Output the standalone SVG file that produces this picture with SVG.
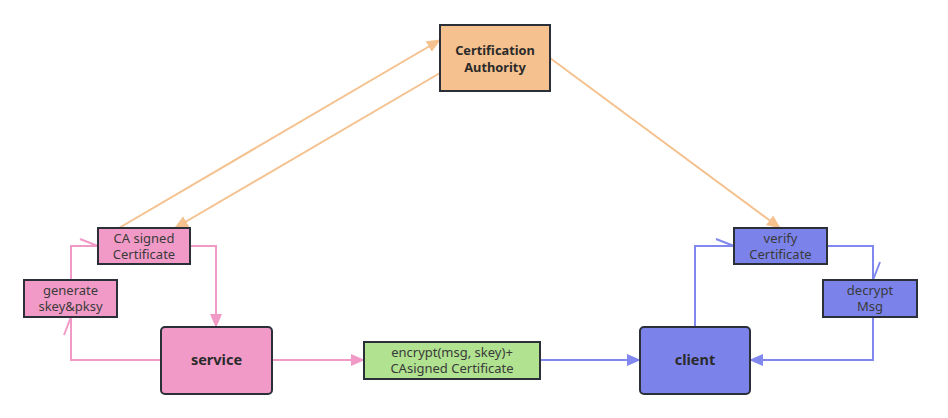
<svg xmlns="http://www.w3.org/2000/svg" width="948" height="418" viewBox="0 0 948 418">
<defs>
<style>
.box{stroke:#2b3038;stroke-width:2}
.t{font-family:"Noto Sans","Liberation Sans",sans-serif;font-size:13px;fill:#3a3a3a;text-anchor:middle}
.b{font-weight:bold;fill:#2b2b2b;font-size:12.8px}
.o{stroke:#f5c18e;stroke-width:2;fill:none}
.p{stroke:#f29ac7;stroke-width:2;fill:none}
.u{stroke:#8088ee;stroke-width:2;fill:none}
</style>
<marker id="ao" markerWidth="16" markerHeight="14" refX="13" refY="6" orient="auto" markerUnits="userSpaceOnUse"><path d="M0,0 L14,6 L0,12 Z" fill="#f5c18e"/></marker>
<marker id="ap" markerWidth="16" markerHeight="14" refX="13" refY="6" orient="auto" markerUnits="userSpaceOnUse"><path d="M0,0 L14,6 L0,12 Z" fill="#f29ac7"/></marker>
<marker id="au" markerWidth="16" markerHeight="14" refX="13" refY="6" orient="auto" markerUnits="userSpaceOnUse"><path d="M0,0 L14,6 L0,12 Z" fill="#8088ee"/></marker>
<marker id="hp" markerWidth="22" markerHeight="12" refX="20" refY="9" orient="auto" markerUnits="userSpaceOnUse"><path d="M20,9 L2,2" stroke="#f29ac7" stroke-width="2" fill="none"/></marker>
<marker id="hu" markerWidth="22" markerHeight="12" refX="20" refY="9" orient="auto" markerUnits="userSpaceOnUse"><path d="M20,9 L2,2" stroke="#8088ee" stroke-width="2" fill="none"/></marker>
</defs>
<rect width="948" height="418" fill="#ffffff"/>
<g id="connectors">
<path class="o" d="M119,228 L440,40" marker-end="url(#ao)"/>
<path class="o" d="M440,73 L175,228" marker-end="url(#ao)"/>
<path class="o" d="M550,58 L780,228" marker-end="url(#ao)"/>
<path class="p" d="M190,246 L216,246 L216,327" marker-end="url(#ap)"/>
<path class="p" d="M161,360 L71,360 L71,317" marker-end="url(#hp)"/>
<path class="p" d="M71,280 L71,246 L98,246" marker-end="url(#hp)"/>
<path class="p" d="M272,360 L364,360" marker-end="url(#ap)"/>
<path class="u" d="M540,360 L640,360" marker-end="url(#au)"/>
<path class="u" d="M695,327 L695,246 L734,246" marker-end="url(#hu)"/>
<path class="u" d="M827,246 L873,246 L873,280" marker-end="url(#hu)"/>
<path class="u" d="M873,317 L873,360 L750,360" marker-end="url(#au)"/>
</g>
<g id="ca">
<rect class="box" x="440" y="25" width="110" height="66" fill="#f5c18e"/>
<text class="t b" x="495" y="55">Certification</text>
<text class="t b" x="495" y="72">Authority</text>
</g>
<g id="casigned">
<rect class="box" x="98" y="228" width="92" height="36" fill="#f29ac7"/>
<text class="t" x="144" y="242.5">CA signed</text>
<text class="t" x="144" y="259">Certificate</text>
</g>
<g id="generate">
<rect class="box" x="24" y="280" width="93" height="37" fill="#f29ac7"/>
<text class="t" x="70.5" y="294.5">generate</text>
<text class="t" x="70.5" y="311">skey&amp;pksy</text>
</g>
<g id="service">
<rect class="box" x="161" y="327" width="111" height="67" rx="4" fill="#f29ac7"/>
<text class="t b" x="216.5" y="365" style="font-size:14.5px">service</text>
</g>
<g id="encrypt">
<rect class="box" x="364" y="342" width="176" height="37" fill="#b0e290"/>
<text class="t" x="452" y="356.5">encrypt(msg, skey)+</text>
<text class="t" x="452" y="373">CAsigned Certificate</text>
</g>
<g id="client">
<rect class="box" x="640" y="327" width="110" height="67" rx="4" fill="#7b83eb"/>
<text class="t b" x="695" y="365" style="font-size:14.5px">client</text>
</g>
<g id="verify">
<rect class="box" x="734" y="228" width="93" height="36" fill="#7b83eb"/>
<text class="t" x="780.5" y="242.5">verify</text>
<text class="t" x="780.5" y="259">Certificate</text>
</g>
<g id="decrypt">
<rect class="box" x="823" y="280" width="94" height="37" fill="#7b83eb"/>
<text class="t" x="870" y="294.5">decrypt</text>
<text class="t" x="870" y="311">Msg</text>
</g>
</svg>
